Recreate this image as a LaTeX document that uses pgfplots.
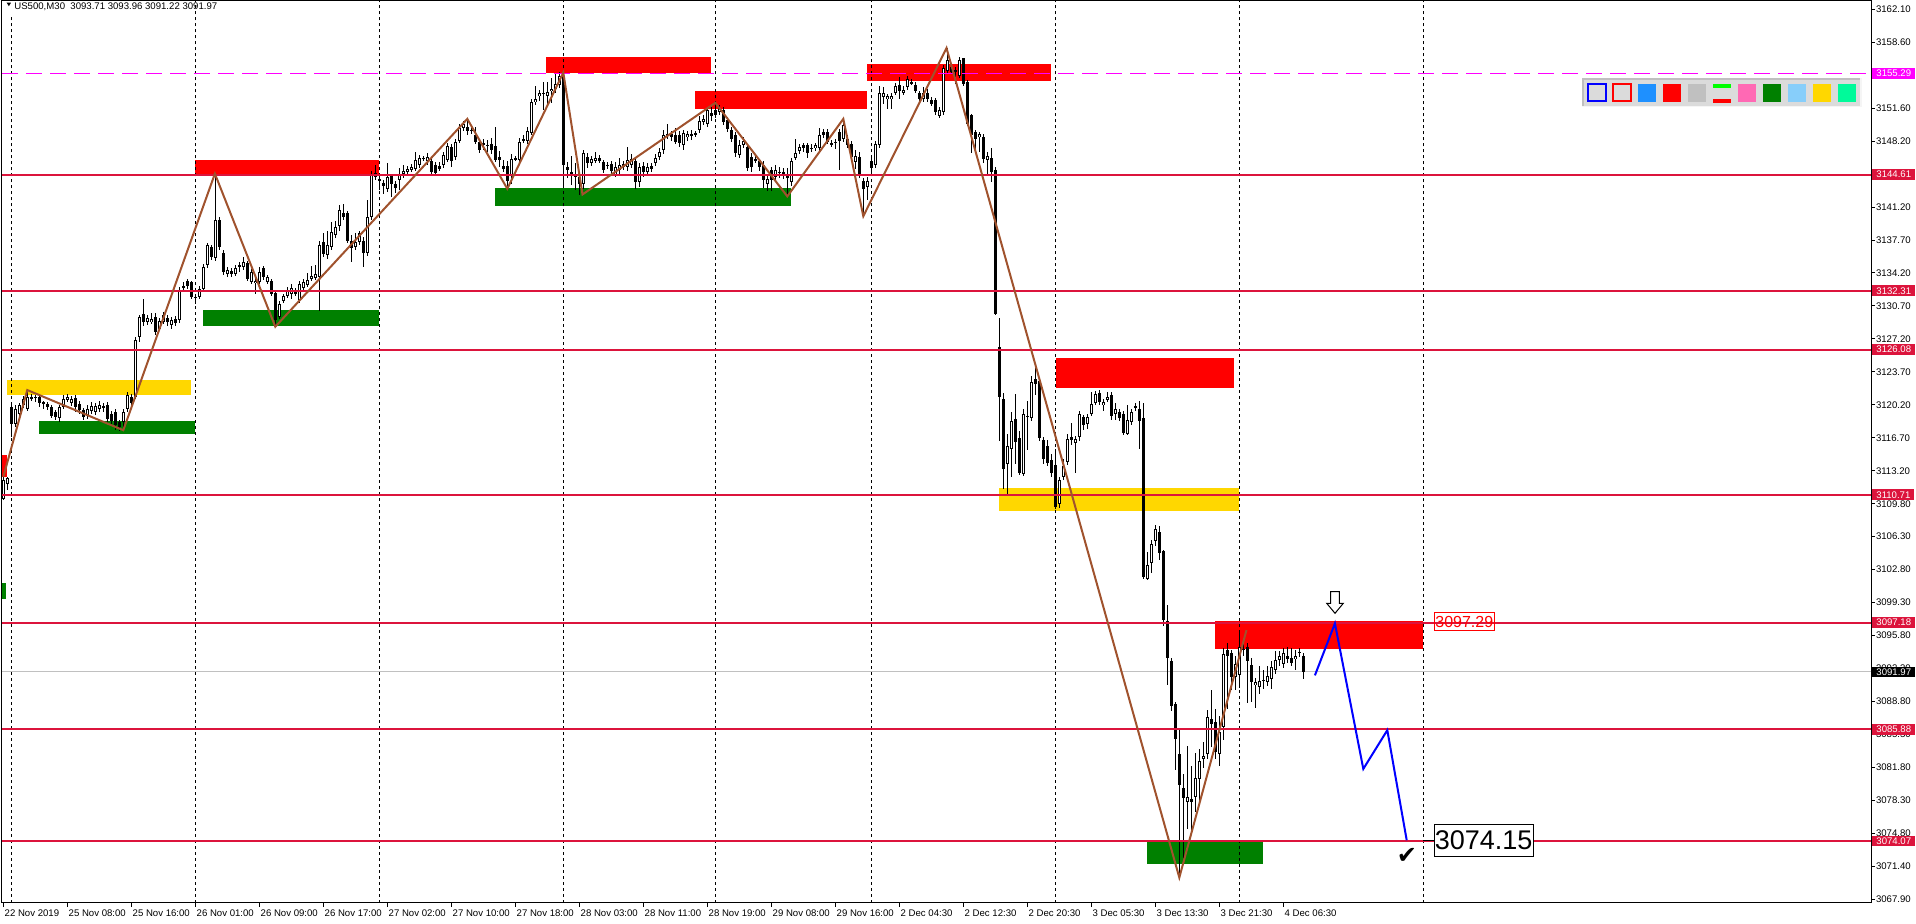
\documentclass[border=0pt]{standalone}
\usepackage{fontspec}
\setmainfont{Liberation Sans}
\newfontfamily\dejavu{DejaVu Sans}
\usepackage{pgfplots}
\usepackage{pgfplotstable}
\pgfplotsset{compat=1.18}
\definecolor{crim}{HTML}{DC143C}
\definecolor{zz}{HTML}{A0522D}
\definecolor{gld}{HTML}{FFD700}
\definecolor{dgreen}{HTML}{008000}
\definecolor{mag}{HTML}{FF00FF}
\definecolor{silv}{HTML}{C0C0C0}
\definecolor{dodger}{HTML}{1E90FF}
\definecolor{lime}{HTML}{00FF00}
\definecolor{hpink}{HTML}{FF69B4}
\definecolor{lsky}{HTML}{87CEFA}
\definecolor{msg}{HTML}{00FA9A}
\newcommand\tf{\fontsize{4.8}{5.5}\selectfont}

\pgfplotstableread{
i o h l c
0 3110.3 3112.6 3110.2 3112.25
1 3111.9 3112.6 3111.2 3112.5
2 3120.0 3120.4 3116.8 3118.25
3 3118.25 3120.2 3117.9 3119.8
4 3119.3 3120.4 3119.1 3120.2
5 3120.2 3121.2 3119.9 3120.8
6 3119.8 3121.8 3119.6 3121.07
7 3120.9 3121.4 3120.6 3121.1
8 3121.0 3121.3 3120.5 3121.1
9 3121.1 3121.3 3120.0 3120.4
10 3120.3 3120.6 3119.8 3120.5
11 3120.3 3120.5 3119.7 3120.0
12 3120.0 3120.2 3118.9 3119.1
13 3119.5 3119.7 3118.6 3118.96
14 3118.8 3120.2 3118.4 3120.0
15 3120.0 3121.3 3119.8 3120.9
16 3120.8 3121.4 3120.5 3121.07
17 3120.4 3121.2 3120.1 3120.9
18 3121.0 3121.3 3119.5 3120.0
19 3120.3 3120.6 3119.3 3119.7
20 3119.7 3119.9 3118.6 3119.0
21 3119.0 3120.2 3118.7 3119.8
22 3119.6 3120.5 3119.3 3120.1
23 3119.5 3120.4 3119.2 3120.1
24 3119.8 3120.6 3119.5 3120.2
25 3120.0 3120.4 3119.5 3120.05
26 3120.2 3120.5 3118.4 3118.7
27 3119.3 3119.6 3118.2 3118.5
28 3119.5 3119.8 3117.6 3118.1
29 3118.4 3118.6 3117.5 3117.9
30 3118.4 3119.8 3117.6 3119.5
31 3119.8 3121.6 3119.5 3121.3
32 3121.1 3121.4 3120.0 3120.4
33 3121.1 3127.4 3120.8 3127.1
34 3127.4 3129.8 3126.9 3129.5
35 3129.8 3131.4 3128.6 3129.0
36 3129.0 3129.7 3128.7 3129.4
37 3129.0 3130.0 3128.8 3129.3
38 3129.5 3130.0 3127.6 3127.9
39 3128.3 3129.4 3128.0 3129.1
40 3129.0 3130.1 3128.8 3129.7
41 3129.4 3129.7 3128.6 3129.0
42 3128.7 3129.5 3128.3 3129.2
43 3129.3 3129.6 3128.6 3128.9
44 3129.2 3132.7 3128.9 3132.4
45 3132.6 3133.2 3132.3 3132.8
46 3133.3 3133.6 3132.5 3132.8
47 3133.2 3133.4 3131.4 3131.7
48 3131.6 3132.0 3130.9 3131.7
49 3131.7 3132.8 3131.4 3132.5
50 3132.5 3135.1 3132.2 3134.8
51 3135.0 3137.4 3134.7 3137.1
52 3136.9 3137.2 3135.6 3135.9
53 3135.8 3144.6 3135.5 3139.8
54 3139.8 3140.1 3136.6 3136.9
55 3136.3 3136.6 3134.0 3134.3
56 3134.1 3134.8 3133.8 3134.5
57 3134.4 3134.7 3133.8 3134.1
58 3134.1 3135.0 3133.9 3134.7
59 3134.8 3135.3 3134.3 3135.0
60 3134.8 3135.9 3134.5 3135.4
61 3135.2 3135.5 3133.3 3133.6
62 3133.2 3134.6 3133.0 3134.3
63 3133.1 3133.8 3132.0 3133.4
64 3133.2 3134.8 3133.0 3134.3
65 3134.7 3134.9 3133.5 3133.8
66 3133.2 3134.0 3133.0 3133.8
67 3133.4 3133.6 3131.8 3132.0
68 3132.1 3132.2 3128.5 3129.2
69 3129.5 3131.2 3129.3 3130.9
70 3131.2 3132.0 3131.0 3131.8
71 3131.8 3132.7 3131.6 3132.3
72 3132.0 3133.0 3131.4 3132.6
73 3132.3 3132.6 3131.8 3132.0
74 3131.3 3133.4 3131.0 3133.0
75 3132.6 3133.6 3132.4 3133.2
76 3132.9 3134.2 3132.7 3133.4
77 3133.6 3134.9 3133.4 3133.9
78 3133.7 3135.0 3133.5 3134.1
79 3133.8 3137.6 3130.2 3137.2
80 3137.5 3138.4 3135.9 3136.2
81 3136.1 3138.6 3135.7 3137.1
82 3136.9 3139.6 3136.6 3138.5
83 3138.2 3139.7 3137.9 3139.1
84 3139.2 3141.4 3138.6 3140.9
85 3140.6 3141.5 3139.8 3140.1
86 3140.5 3140.8 3137.4 3137.6
87 3137.6 3138.2 3135.4 3136.8
88 3136.9 3138.4 3136.6 3137.5
89 3137.5 3138.6 3137.1 3138.4
90 3137.6 3138.0 3134.8 3136.3
91 3136.3 3141.9 3136.0 3140.1
92 3140.1 3145.0 3139.8 3144.7
93 3144.3 3145.6 3144.0 3144.8
94 3144.2 3144.5 3143.0 3143.9
95 3143.7 3144.0 3142.5 3143.4
96 3143.1 3145.8 3142.8 3144.4
97 3144.5 3144.7 3142.2 3143.6
98 3143.6 3143.9 3142.7 3143.2
99 3144.0 3145.3 3143.0 3144.7
100 3144.7 3145.6 3144.3 3145.0
101 3144.9 3145.5 3144.6 3145.2
102 3145.1 3145.7 3144.9 3145.4
103 3145.2 3147.0 3145.0 3146.1
104 3145.6 3146.7 3145.3 3146.4
105 3146.3 3146.6 3146.0 3146.35
106 3146.0 3146.9 3145.6 3146.5
107 3146.0 3146.3 3144.7 3144.9
108 3145.6 3145.9 3144.6 3144.8
109 3145.5 3145.9 3145.0 3145.2
110 3145.6 3147.0 3145.3 3146.7
111 3146.2 3148.0 3145.9 3147.6
112 3147.5 3147.8 3145.4 3146.1
113 3146.5 3148.4 3146.2 3148.1
114 3148.2 3150.0 3148.0 3149.5
115 3149.5 3150.3 3149.2 3150.0
116 3149.6 3150.5 3148.8 3149.2
117 3149.3 3149.6 3148.9 3149.35
118 3148.8 3149.6 3147.9 3148.1
119 3148.1 3148.3 3146.9 3147.2
120 3148.0 3148.4 3147.2 3147.7
121 3147.7 3148.3 3147.0 3147.75
122 3147.9 3148.5 3146.8 3147.2
123 3147.6 3149.6 3145.9 3146.2
124 3146.5 3147.1 3145.4 3146.2
125 3145.5 3146.1 3144.9 3145.2
126 3145.5 3146.0 3143.1 3143.9
127 3144.5 3146.8 3143.6 3146.3
128 3146.2 3146.6 3146.0 3146.4
129 3146.2 3148.5 3145.9 3148.1
130 3148.2 3148.8 3147.9 3148.4
131 3148.2 3149.7 3147.9 3149.2
132 3149.0 3152.6 3148.8 3152.3
133 3152.3 3154.0 3152.0 3152.6
134 3152.9 3153.6 3152.4 3153.2
135 3153.2 3154.4 3151.5 3153.25
136 3152.9 3154.4 3152.0 3153.4
137 3153.4 3154.8 3152.2 3153.7
138 3153.7 3155.4 3153.3 3154.2
139 3154.1 3155.5 3153.8 3155.0
140 3155.1 3155.6 3143.5 3145.6
141 3145.4 3145.9 3144.2 3145.1
142 3144.9 3146.6 3143.5 3144.7
143 3144.6 3145.8 3143.0 3144.4
144 3144.4 3144.9 3142.5 3143.6
145 3143.6 3147.2 3143.1 3146.9
146 3146.5 3146.9 3145.3 3145.8
147 3145.8 3146.6 3145.5 3146.3
148 3146.1 3147.0 3145.8 3146.4
149 3146.4 3146.7 3145.8 3146.1
150 3145.9 3146.1 3144.8 3145.1
151 3145.55 3145.9 3145.2 3145.6
152 3145.7 3146.0 3144.6 3145.0
153 3144.6 3145.9 3144.3 3145.4
154 3145.1 3146.4 3144.6 3145.6
155 3145.7 3146.0 3145.1 3145.4
156 3145.4 3147.5 3145.0 3146.2
157 3145.6 3146.8 3145.3 3146.3
158 3146.1 3146.5 3143.1 3143.8
159 3143.8 3145.8 3143.3 3145.4
160 3145.5 3145.9 3144.4 3144.9
161 3144.9 3145.8 3144.5 3145.4
162 3145.5 3145.8 3144.9 3145.2
163 3145.8 3146.8 3145.5 3146.4
164 3146.5 3147.4 3146.2 3147.0
165 3147.2 3149.3 3146.8 3148.8
166 3148.7 3150.0 3148.4 3148.9
167 3148.9 3149.2 3148.2 3148.6
168 3148.8 3149.5 3147.8 3148.1
169 3148.8 3149.2 3147.5 3147.9
170 3147.7 3149.3 3147.2 3149.0
171 3148.6 3149.2 3148.2 3148.9
172 3148.7 3149.3 3148.3 3148.9
173 3148.85 3149.2 3148.6 3148.95
174 3149.3 3150.8 3149.0 3150.3
175 3150.2 3150.9 3149.9 3150.5
176 3150.0 3151.8 3149.7 3151.4
177 3151.1 3151.8 3150.3 3150.8
178 3151.4 3152.2 3150.6 3150.9
179 3151.2 3152.0 3150.9 3151.7
180 3151.4 3151.8 3149.9 3150.2
181 3150.4 3150.7 3149.1 3149.4
182 3149.3 3149.6 3148.1 3148.4
183 3148.8 3149.1 3146.5 3146.9
184 3146.7 3148.3 3146.4 3147.7
185 3147.7 3148.6 3147.4 3148.2
186 3147.5 3147.8 3145.0 3145.3
187 3146.5 3146.9 3144.9 3145.4
188 3146.1 3146.6 3145.8 3146.2
189 3146.0 3146.3 3145.0 3145.4
190 3145.6 3146.0 3143.2 3144.0
191 3143.6 3144.7 3142.9 3144.2
192 3145.1 3145.4 3142.9 3144.0
193 3144.4 3145.6 3144.0 3145.1
194 3144.8 3145.4 3144.3 3144.9
195 3144.9 3145.3 3144.1 3144.5
196 3144.6 3145.3 3142.3 3144.2
197 3143.8 3146.4 3143.4 3146.1
198 3146.4 3148.4 3146.1 3146.9
199 3147.1 3147.9 3146.8 3147.5
200 3147.7 3148.0 3147.0 3147.4
201 3147.7 3148.0 3146.4 3146.9
202 3147.35 3147.8 3147.0 3147.4
203 3147.4 3148.0 3147.1 3147.7
204 3147.4 3149.5 3147.1 3148.8
205 3149.1 3149.4 3148.5 3148.8
206 3149.1 3149.4 3147.8 3148.1
207 3147.85 3148.3 3147.5 3147.9
208 3148.0 3148.4 3147.3 3148.1
209 3149.1 3149.4 3145.1 3148.2
210 3148.4 3150.5 3148.1 3149.8
211 3148.4 3148.8 3147.4 3147.7
212 3147.9 3148.2 3146.1 3146.5
213 3145.9 3147.2 3145.2 3146.6
214 3146.5 3147.0 3144.2 3144.7
215 3143.9 3144.3 3140.2 3143.1
216 3143.3 3144.3 3141.9 3143.9
217 3146.0 3146.4 3144.5 3145.3
218 3145.6 3148.2 3145.3 3147.9
219 3147.7 3154.0 3147.4 3153.2
220 3152.8 3153.9 3152.1 3153.2
221 3152.6 3153.1 3151.6 3152.9
222 3152.6 3153.2 3151.6 3152.9
223 3153.2 3154.3 3153.0 3154.0
224 3154.1 3154.9 3152.6 3153.4
225 3153.2 3154.0 3153.0 3153.6
226 3153.9 3155.0 3153.6 3154.7
227 3154.35 3154.7 3154.1 3154.3
228 3154.1 3154.4 3153.2 3153.4
229 3153.2 3153.5 3152.1 3152.6
230 3152.6 3153.9 3152.3 3153.2
231 3153.2 3153.7 3152.3 3152.6
232 3152.5 3152.8 3151.9 3152.1
233 3152.5 3152.7 3150.9 3151.2
234 3150.8 3151.8 3150.6 3151.4
235 3151.2 3156.2 3150.9 3155.9
236 3155.6 3158.0 3155.3 3156.7
237 3156.0 3156.3 3155.3 3155.5
238 3155.55 3156.0 3154.2 3155.65
239 3155.0 3157.0 3154.8 3156.7
240 3156.9 3157.0 3154.0 3154.2
241 3154.4 3154.6 3149.7 3150.0
242 3150.9 3151.0 3146.9 3148.8
243 3149.1 3149.3 3147.3 3148.4
244 3148.6 3149.1 3147.0 3148.9
245 3148.6 3148.9 3145.8 3146.3
246 3146.1 3147.0 3144.5 3146.6
247 3146.4 3147.4 3143.8 3144.9
248 3145.1 3145.4 3129.7 3129.9
249 3126.4 3129.4 3116.4 3121.1
250 3120.9 3121.5 3111.3 3113.5
251 3114.0 3117.2 3110.6 3115.9
252 3115.6 3119.5 3112.6 3118.5
253 3118.7 3121.4 3114.0 3116.3
254 3116.7 3117.5 3112.8 3113.0
255 3112.9 3119.8 3112.7 3119.3
256 3119.0 3120.6 3115.5 3119.1
257 3118.8 3123.3 3118.5 3122.7
258 3123.0 3124.2 3121.3 3122.4
259 3122.8 3123.1 3116.4 3116.7
260 3116.5 3116.8 3114.0 3114.5
261 3115.9 3116.5 3113.8 3114.1
262 3114.4 3115.0 3112.6 3113.0
263 3113.9 3115.6 3109.2 3109.4
264 3109.8 3112.6 3109.3 3112.3
265 3112.6 3114.5 3112.3 3113.8
266 3114.2 3117.2 3113.9 3116.6
267 3116.8 3118.3 3116.0 3116.5
268 3116.2 3116.9 3113.0 3116.6
269 3116.8 3119.6 3116.4 3119.3
270 3118.9 3119.2 3117.6 3118.1
271 3118.2 3119.3 3117.7 3118.9
272 3119.3 3121.6 3119.0 3120.3
273 3120.4 3121.7 3120.2 3121.4
274 3121.5 3121.8 3120.2 3120.5
275 3120.2 3120.8 3119.6 3120.5
276 3120.8 3121.6 3120.5 3121.1
277 3121.3 3121.6 3118.6 3119.0
278 3119.3 3120.4 3118.6 3119.8
279 3119.5 3119.8 3118.5 3118.9
280 3119.3 3119.6 3117.0 3117.3
281 3117.2 3120.2 3117.0 3118.6
282 3118.4 3119.8 3118.1 3119.5
283 3119.9 3120.4 3119.6 3120.1
284 3119.8 3120.6 3115.6 3118.5
285 3118.8 3120.4 3101.8 3102.0
286 3101.8 3104.7 3101.7 3103.3
287 3103.5 3105.9 3102.4 3105.5
288 3105.8 3107.5 3105.3 3107.1
289 3106.8 3107.4 3103.8 3104.6
290 3104.8 3104.9 3096.8 3097.5
291 3097.4 3099.1 3090.6 3093.4
292 3093.1 3093.4 3087.8 3088.4
293 3088.6 3088.8 3081.6 3084.9
294 3083.3 3086.0 3070.2 3080.0
295 3079.7 3081.2 3072.3 3078.6
296 3078.2 3084.1 3075.4 3078.7
297 3078.5 3082.0 3074.9 3078.2
298 3078.7 3083.4 3077.2 3080.8
299 3080.6 3083.8 3078.1 3082.6
300 3082.8 3084.6 3081.8 3083.1
301 3083.3 3087.9 3082.8 3087.2
302 3087.0 3090.1 3084.0 3086.5
303 3086.7 3088.0 3082.8 3083.5
304 3083.3 3087.3 3082.0 3085.6
305 3086.1 3094.5 3084.8 3093.9
306 3094.3 3095.0 3088.0 3093.6
307 3094.0 3094.3 3090.0 3091.4
308 3091.4 3093.6 3090.0 3092.8
309 3091.7 3096.1 3090.3 3094.6
310 3094.35 3095.0 3093.7 3094.45
311 3094.6 3095.0 3088.7 3093.1
312 3092.7 3093.4 3088.8 3090.9
313 3090.6 3091.3 3088.2 3090.9
314 3090.4 3092.6 3089.6 3091.0
315 3091.05 3092.2 3090.2 3091.1
316 3090.9 3092.6 3090.5 3091.5
317 3091.2 3093.1 3090.2 3092.5
318 3092.2 3094.2 3091.8 3093.2
319 3093.2 3094.2 3092.6 3093.7
320 3092.8 3094.5 3092.4 3094.0
321 3093.7 3094.6 3092.9 3093.3
322 3093.5 3094.5 3092.6 3092.9
323 3093.3 3094.3 3092.2 3093.7
324 3094.0 3094.5 3093.5 3094.1
325 3093.71 3093.96 3091.22 3091.97
}\candles

\begin{document}
\begin{tikzpicture}
\useasboundingbox (-1pt,-10.25pt) rectangle (957pt,451.25pt);
\begin{axis}[
  width=934.5pt, height=451pt, scale only axis,
  xmin=-0.325, xmax=466.925, ymin=3067.56, ymax=3163.03,
  clip=false,
  axis line style={line width=0.5pt, black},
  xtick={0,16,...,320},
  xticklabels={22 Nov 2019, 25 Nov 08:00, 25 Nov 16:00, 26 Nov 01:00, 26 Nov 09:00, 26 Nov 17:00, 27 Nov 02:00, 27 Nov 10:00, 27 Nov 18:00, 28 Nov 03:00, 28 Nov 11:00, 28 Nov 19:00, 29 Nov 08:00, 29 Nov 16:00, 2 Dec 04:30, 2 Dec 12:30, 2 Dec 20:30, 3 Dec 05:30, 3 Dec 13:30, 3 Dec 21:30, 4 Dec 06:30},
  ytick={3162.10,3158.61,3155.12,3151.63,3148.14,3144.66,3141.17,3137.68,3134.19,3130.70,3127.21,3123.72,3120.23,3116.74,3113.26,3109.77,3106.28,3102.79,3099.30,3095.81,3092.32,3088.83,3085.34,3081.86,3078.37,3074.88,3071.39,3067.90},
  yticklabels={3162.10,3158.60,3155.10,3151.60,3148.20,3144.70,3141.20,3137.70,3134.20,3130.70,3127.20,3123.70,3120.20,3116.70,3113.20,3109.80,3106.30,3102.80,3099.30,3095.80,3092.30,3088.80,3085.30,3081.80,3078.30,3074.80,3071.40,3067.90},
  xtick pos=bottom, ytick pos=right, yticklabel pos=right,
  tick align=outside, major tick length=2pt,
  tick style={line width=0.5pt, black},
  xticklabel style={font=\tf, anchor=north west, inner sep=0pt, xshift=0.5pt, yshift=-1.2pt},
  yticklabel style={font=\tf, anchor=west, inner sep=0pt, xshift=0.3pt},
]
% zones
\addplot[draw=none, fill=gld] coordinates {(0.9,3121.24) (46.9,3121.24) (46.9,3122.83) (0.9,3122.83)} --cycle;
\addplot[draw=none, fill=dgreen] coordinates {(8.9,3117.12) (47.9,3117.12) (47.9,3118.50) (8.9,3118.50)} --cycle;
\addplot[draw=none, fill=red] coordinates {(48.0,3144.64) (93.9,3144.64) (93.9,3146.12) (48.0,3146.12)} --cycle;
\addplot[draw=none, fill=dgreen] coordinates {(49.9,3128.55) (93.9,3128.55) (93.9,3130.25) (49.9,3130.25)} --cycle;
\addplot[draw=none, fill=dgreen] coordinates {(122.9,3141.28) (196.8,3141.28) (196.8,3143.15) (122.9,3143.15)} --cycle;
\addplot[draw=none, fill=red] coordinates {(135.7,3155.36) (176.9,3155.36) (176.9,3157.02) (135.7,3157.02)} --cycle;
\addplot[draw=none, fill=red] coordinates {(172.9,3151.52) (215.9,3151.52) (215.9,3153.42) (172.9,3153.42)} --cycle;
\addplot[draw=none, fill=red] coordinates {(216.0,3154.52) (261.9,3154.52) (261.9,3156.28) (216.0,3156.28)} --cycle;
\addplot[draw=none, fill=red] coordinates {(263.1,3122.03) (307.7,3122.03) (307.7,3125.20) (263.1,3125.20)} --cycle;
\addplot[draw=none, fill=gld] coordinates {(248.9,3109.0) (308.9,3109.0) (308.9,3111.44) (248.9,3111.44)} --cycle;
\addplot[draw=none, fill=red] coordinates {(302.9,3094.39) (355.0,3094.39) (355.0,3097.32) (302.9,3097.32)} --cycle;
\addplot[draw=none, fill=dgreen] coordinates {(285.9,3071.64) (314.9,3071.64) (314.9,3074.07) (285.9,3074.07)} --cycle;
\addplot[draw=none, fill=red] coordinates {(-0.325,3112.6) (0.9,3112.6) (0.9,3114.9) (-0.325,3114.9)} --cycle;
\addplot[draw=none, fill=dgreen] coordinates {(-0.325,3099.65) (0.7,3099.65) (0.7,3101.35) (-0.325,3101.35)} --cycle;
% vertical grid
\addplot[black, line width=0.5pt, dash pattern=on 1.5pt off 1.5pt] coordinates {(2,3067.56) (2,3161.3)};
\addplot[black, line width=0.5pt, dash pattern=on 1.5pt off 1.5pt] coordinates {(48,3067.56) (48,3163.03)};
\addplot[black, line width=0.5pt, dash pattern=on 1.5pt off 1.5pt] coordinates {(94,3067.56) (94,3163.03)};
\addplot[black, line width=0.5pt, dash pattern=on 1.5pt off 1.5pt] coordinates {(140,3067.56) (140,3163.03)};
\addplot[black, line width=0.5pt, dash pattern=on 1.5pt off 1.5pt] coordinates {(178,3067.56) (178,3163.03)};
\addplot[black, line width=0.5pt, dash pattern=on 1.5pt off 1.5pt] coordinates {(217,3067.56) (217,3163.03)};
\addplot[black, line width=0.5pt, dash pattern=on 1.5pt off 1.5pt] coordinates {(263,3067.56) (263,3163.03)};
\addplot[black, line width=0.5pt, dash pattern=on 1.5pt off 1.5pt] coordinates {(309,3067.56) (309,3163.03)};
\addplot[black, line width=0.5pt, dash pattern=on 1.5pt off 1.5pt] coordinates {(355,3067.56) (355,3163.03)};
% current price line
\addplot[silv, line width=0.5pt] coordinates {(-0.325,3091.97) (466.925,3091.97)};
% candles: wicks, bodies, hollow insides of rising bars
\addplot[draw=none, mark=none, error bars/.cd, y dir=both, y explicit, error mark=none, error bar style={draw=black, line width=0.5pt, line cap=butt}]
  table[x=i, y expr={(\thisrow{h}+\thisrow{l})/2}, y error expr={(\thisrow{h}-\thisrow{l})/2}] {\candles};
\addplot[draw=none, mark=none, error bars/.cd, y dir=both, y explicit, error mark=none, error bar style={draw=black, line width=1.5pt, line cap=butt}]
  table[x=i, y expr={(\thisrow{o}+\thisrow{c})/2}, y error expr={max(abs(\thisrow{c}-\thisrow{o})/2,0.053)}] {\candles};
\addplot[draw=none, mark=none, restrict y to domain=3000:3300, error bars/.cd, y dir=both, y explicit, error mark=none, error bar style={draw=white, line width=0.5pt, line cap=butt}]
  table[x=i, y expr={ifthenelse(\thisrow{c}>\thisrow{o},(\thisrow{o}+\thisrow{c})/2,0)}, y error expr={max(abs(\thisrow{c}-\thisrow{o})/2-0.106,0)}] {\candles};
% horizontal levels
\addplot[mag, line width=0.5pt, dash pattern=on 8pt off 4pt] coordinates {(-0.325,3155.29) (466.925,3155.29)};
\addplot[crim, line width=1pt] coordinates {(-0.325,3144.61) (466.925,3144.61)};
\addplot[crim, line width=1pt] coordinates {(-0.325,3132.31) (466.925,3132.31)};
\addplot[crim, line width=1pt] coordinates {(-0.325,3126.08) (466.925,3126.08)};
\addplot[crim, line width=1pt] coordinates {(-0.325,3110.71) (466.925,3110.71)};
\addplot[crim, line width=1pt] coordinates {(-0.325,3097.18) (466.925,3097.18)};
\addplot[crim, line width=1pt] coordinates {(-0.325,3085.88) (466.925,3085.88)};
\addplot[crim, line width=1pt] coordinates {(-0.325,3074.07) (466.925,3074.07)};
% zigzag
\addplot[zz, line width=1pt] coordinates {(0,3112.6) (6,3121.8) (30,3117.55) (52.9,3144.7) (68,3128.5) (116,3150.5) (126,3143.1) (140,3155.4) (144.8,3142.5) (178,3152.2) (196,3142.3) (210,3150.5) (215,3140.2) (235.8,3158.0) (294,3070.2) (310.8,3096.4)};
% projection
\addplot[blue, line width=1pt] coordinates {(327.9,3091.6) (332.9,3097.1) (340,3081.7) (346,3085.8) (350.85,3074.15)};
% labels on the price scale
\node[fill=mag, text=white, font=\tf, anchor=west, inner xsep=2pt, inner ysep=0pt, minimum height=5.35pt] at (axis cs:467.175,3155.29) {3155.29};
\node[fill=crim, text=white, font=\tf, anchor=west, inner xsep=2pt, inner ysep=0pt, minimum height=5.35pt] at (axis cs:467.175,3144.61) {3144.61};
\node[fill=crim, text=white, font=\tf, anchor=west, inner xsep=2pt, inner ysep=0pt, minimum height=5.35pt] at (axis cs:467.175,3132.31) {3132.31};
\node[fill=crim, text=white, font=\tf, anchor=west, inner xsep=2pt, inner ysep=0pt, minimum height=5.35pt] at (axis cs:467.175,3126.08) {3126.08};
\node[fill=crim, text=white, font=\tf, anchor=west, inner xsep=2pt, inner ysep=0pt, minimum height=5.35pt] at (axis cs:467.175,3110.71) {3110.71};
\node[fill=crim, text=white, font=\tf, anchor=west, inner xsep=2pt, inner ysep=0pt, minimum height=5.35pt] at (axis cs:467.175,3097.18) {3097.18};
\node[fill=crim, text=white, font=\tf, anchor=west, inner xsep=2pt, inner ysep=0pt, minimum height=5.35pt] at (axis cs:467.175,3085.88) {3085.88};
\node[fill=crim, text=white, font=\tf, anchor=west, inner xsep=2pt, inner ysep=0pt, minimum height=5.35pt] at (axis cs:467.175,3074.07) {3074.07};
\node[fill=black, text=white, font=\tf, anchor=west, inner xsep=2pt, inner ysep=0pt, minimum height=5.35pt] at (axis cs:467.175,3091.97) {3091.97};
% text objects
\node[draw=red, text=red, line width=0.5pt, font=\fontsize{8}{8}\selectfont, inner sep=0pt, minimum width=30pt, minimum height=9pt] at (axis cs:365.25,3097.25) {3097.29};
\draw[black, line width=0.5pt] (axis cs:355,3074.15) -- (axis cs:357.8,3074.15);
\node[draw=black, fill=white, line width=0.5pt, font=\fontsize{13.5}{13.5}\selectfont, inner sep=0pt, minimum width=49.5pt, minimum height=15.85pt] at (axis cs:370.1,3074.13) {3074.15};
\end{axis}
\begin{scope}[shift={(-1pt,451.25pt)}, x=0.5pt, y=-0.5pt]
  \fill (6.7,2.7) -- (11,2.7) -- (8.85,6.2) -- cycle;
  \node[anchor=west, inner sep=0pt, font=\tf] at (14,7.2) {US500,M30\ \ 3093.71 3093.96 3091.22 3091.97};
  \fill[black!4] (1581.7,78.3) rectangle (1861.7,107.3);
  \fill[black!25] (1581.7,78.3) rectangle (1860,105.7);
  \fill[black!14] (1584,80.4) rectangle (1860,105.7);
  \draw[blue, line width=1pt] (1588.3,84.3) rectangle (1605.7,101.3);
  \draw[red, line width=1pt] (1613.3,84.3) rectangle (1630.7,101.3);
  \fill[dodger] (1637.7,84) rectangle (1656,101.7);
  \fill[red] (1663,84) rectangle (1681,101.7);
  \fill[silv] (1688,84) rectangle (1706,101.7);
  \fill[lime] (1713,83.7) rectangle (1731,87.7);
  \fill[red] (1713,99) rectangle (1731,102.7);
  \fill[hpink] (1738,84) rectangle (1756,101.7);
  \fill[dgreen] (1763,84) rectangle (1781,101.7);
  \fill[lsky] (1788,84) rectangle (1806,101.7);
  \fill[gld] (1813,84) rectangle (1831,101.7);
  \fill[msg] (1838,84) rectangle (1856,101.7);
  \filldraw[fill=white, draw=black, line width=0.5pt] (1330.7,591.7) -- (1339.3,591.7) -- (1339.3,603.3) -- (1343.3,603.3) -- (1335,613.3) -- (1326.7,603.3) -- (1330.7,603.3) -- cycle;
  \node[inner sep=0pt, font=\dejavu\fontsize{12}{12}\selectfont] at (1407,856) {✔};
\end{scope}
\end{tikzpicture}
\end{document}
